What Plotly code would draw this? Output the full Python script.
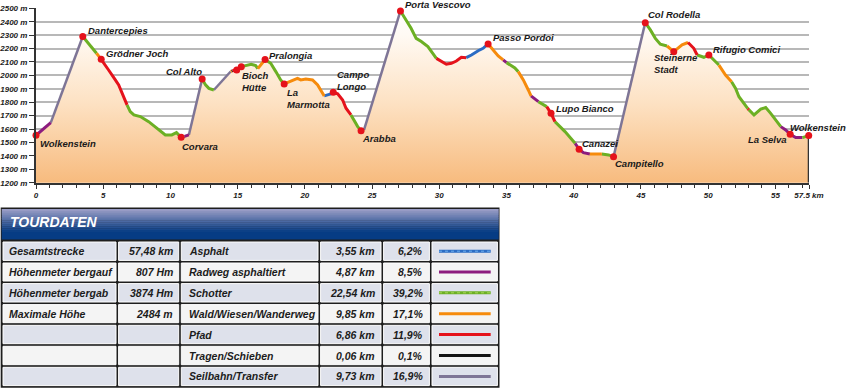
import numpy as np
import plotly.graph_objects as go

# ---------------- profile data (km, m) and surface of the segment that starts at each point
dist = [0.0, 1.1, 3.48, 4.03, 4.5, 4.7, 4.85, 5.4, 5.9, 6.15, 6.77, 7.01, 7.28, 7.76, 8.38, 9.0,
        9.62, 10.1, 10.45, 10.8, 11.05, 11.37, 12.36, 12.61, 12.86, 13.23, 14.48, 14.55, 14.6,
        14.93, 15.27, 15.7, 16.0, 16.34, 16.5, 16.84, 17.04, 17.46, 17.84, 18.2, 18.46, 18.83,
        19.2, 19.45, 19.7, 20.07, 20.57, 20.95, 21.44, 21.94, 22.11, 22.44, 22.81, 23.06, 23.43,
        23.93, 24.18, 24.4, 27.11, 27.54, 27.9, 28.28, 28.66, 29.15, 29.5, 29.78, 30.15, 30.52,
        30.9, 31.27, 31.64, 32.0, 32.39, 32.89, 33.26, 33.63, 34.0, 34.38, 34.75, 35.0, 35.62,
        35.87, 36.25, 36.62, 36.82, 37.37, 37.99, 38.31, 38.6, 39.35, 40.1, 40.4, 40.72, 41.2,
        42.09, 42.59, 42.96, 45.32, 45.7, 46.07, 46.44, 46.94, 47.44, 48.06, 48.5, 48.93, 49.18,
        49.68, 50.05, 50.42, 50.8, 51.29, 51.74, 52.04, 52.29, 52.66, 52.95, 53.02, 53.41, 53.91,
        54.28, 54.65, 55.02, 55.4, 55.77, 56.1, 56.51, 57.01, 57.48]
elev = [1553, 1648, 2290, 2227, 2165, 2140, 2120, 2040, 1966, 1929, 1780, 1730, 1705, 1693, 1655, 1606,
        1556, 1556, 1573, 1538, 1545, 1556, 1973, 1929, 1903, 1891, 2029, 2032, 2035,
        2040, 2065, 2078, 2083, 2073, 2050, 2095, 2118, 2090, 2028, 1966, 1936, 1953,
        1970, 1978, 1966, 1973, 1966, 1929, 1847, 1862, 1874, 1862, 1817, 1755, 1705,
        1618, 1588, 1593, 2480, 2413, 2351, 2276, 2252, 2214, 2165, 2127, 2102, 2083,
        2090, 2107, 2135, 2132, 2152, 2184, 2202, 2234, 2189, 2145, 2115, 2095, 2055,
        2028, 1966, 1891, 1847, 1804, 1767, 1717, 1655, 1581, 1494, 1449, 1424, 1414,
        1414, 1407, 1394, 2393, 2339, 2276, 2232, 2219, 2177, 2227, 2245, 2202, 2152,
        2135, 2152, 2115, 2077, 2003, 1953, 1903, 1841, 1792, 1752, 1745, 1705, 1748,
        1760, 1717, 1668, 1618, 1593, 1561, 1536, 1536, 1551]
surface = ["R", "L", "S", "S", "W", "P", "P", "P", "P", "P", "S", "S", "S", "S", "S", "S",
           "S", "S", "S", "A", "R", "L", "S", "S", "S", "L", "W", "T", "P",
           "P", "S", "S", "S", "S", "W", "W", "S", "S", "S", "S", "W", "W",
           "W", "W", "W", "W", "W", "W", "A", "P", "P", "P", "P", "P", "S",
           "S", "S", "L", "S", "S", "S", "S", "S", "S", "S", "P", "P", "P",
           "P", "P", "P", "A", "A", "A", "A", "W", "W", "W", "R", "S", "S",
           "W", "W", "W", "R", "S", "P", "P", "S", "S", "R", "R", "R", "W",
           "S", "S", "L", "S", "S", "S", "S", "W", "W", "W", "P", "P", "S",
           "S", "S", "S", "W", "W", "S", "S", "S", "S", "P", "S", "S", "S",
           "S", "S", "S", "R", "R", "R", "R", "S"]

# waypoints
wp_km = [0.0, 3.48, 4.85, 10.8, 12.36, 14.93, 15.27, 17.04, 18.46, 22.11, 24.18, 27.11, 33.63,
         38.31, 40.4, 42.96, 45.32, 47.44, 50.05, 56.1, 57.48]
wp_names = ["Wolkenstein", "Dantercepies", "Grödner Joch", "Corvara", "Col Alto", "",
            "Bioch<br>Hütte", "Pralongia", "La<br>Marmotta", "Campo<br>Longo", "Arabba",
            "Porta Vescovo", "Passo Pordoi", "Lupo Bianco", "Canazei", "Campitello",
            "Col Rodella", "Steinerne<br>Stadt", "Rifugio Comici", "La Selva", "Wolkenstein"]
# label placement (xanchor, xshift, yshift)
wp_place = [("left", 2, -8), ("left", 3, 6), ("left", 3, 6), ("left", -1, -9), ("right", 2, 8),
            ("left", 0, 0), ("left", -1, -15), ("left", 2, 4), ("left", 1, -15), ("left", 2, 12),
            ("left", -1, -8), ("left", 3, 6), ("left", 3, 6), ("left", 3, 5), ("left", 1, 6),
            ("left", -1, -7), ("left", 1, 8), ("left", -22, -12), ("left", 2, 5), ("right", -1, -5),
            ("right", 39, 8)]

y_ticks = list(range(1200, 2501, 100))
x_ticks = [0, 5, 10, 15, 20, 25, 30, 35, 40, 45, 50, 55, 57.5]
x_ticktext = ["0", "5", "10", "15", "20", "25", "30", "35", "40", "45", "50", "55", "57.5 km"]

# table data
stat_labels = ["Gesamtstrecke", "Höhenmeter bergauf", "Höhenmeter bergab", "Maximale Höhe"]
stat_values = ["57,48 km", "807 Hm", "3874 Hm", "2484 m"]
surface_codes = ["A", "R", "S", "W", "P", "T", "L"]
surface_names = ["Asphalt", "Radweg asphaltiert", "Schotter", "Wald/Wiesen/Wanderweg", "Pfad",
                 "Tragen/Schieben", "Seilbahn/Transfer"]
surface_km = [3.55, 4.87, 22.54, 9.85, 6.86, 0.06, 9.73]
surface_pct = [6.2, 8.5, 39.2, 17.1, 11.9, 0.1, 16.9]
surface_colors = ["#2b6cc4", "#8c1c7e", "#6cb024", "#f68b0c", "#e5121b", "#141414", "#7e7596"]

W, H = 850, 388
FONT = "Liberation Sans, Arial, sans-serif"


def px(x):
    return x / W


def py(y):
    return 1 - y / H


fig = go.Figure()

# filled area with vertical gradient
fig.add_trace(go.Scatter(
    x=dist, y=elev, mode="lines", line=dict(width=0), fill="tozeroy",
    fillgradient=dict(type="vertical", start=1200, stop=2500,
                      colorscale=[[0, "#f7bb7e"], [0.45, "#fde1c2"], [0.85, "#fffaf4"], [1, "#ffffff"]]),
    hoverinfo="skip"))

# right closing line
fig.add_trace(go.Scatter(x=[dist[-1], dist[-1]], y=[y_ticks[0], elev[-1]], mode="lines",
                         line=dict(color="#333333", width=2), hoverinfo="skip"))

# coloured segments
order = ["L", "A", "R", "S", "W", "P", "T"]
for code in order:
    col = surface_colors[surface_codes.index(code)]
    xs, ys = [], []
    for i, s in enumerate(surface):
        if s != code:
            continue
        if i == 0 or surface[i - 1] != code:
            if xs:
                xs.append(None)
                ys.append(None)
            xs.append(dist[i])
            ys.append(elev[i])
        xs.append(dist[i + 1])
        ys.append(elev[i + 1])
    fig.add_trace(go.Scatter(x=xs, y=ys, mode="lines",
                             line=dict(color=col, width=2.5 if code == "L" else 3),
                             connectgaps=False, hoverinfo="skip"))

wp_elev = list(np.interp(wp_km, dist, elev))
fig.add_trace(go.Scatter(x=wp_km, y=wp_elev, mode="markers", cliponaxis=False,
                         marker=dict(color="#e5121b", size=7, line=dict(width=0)), hoverinfo="skip"))

annotations = []
for name, k, e, (xa, xs_, ys_) in zip(wp_names, wp_km, wp_elev, wp_place):
    if not name:
        continue
    annotations.append(dict(x=k, y=e, xref="x", yref="y", text=name, showarrow=False,
                            xanchor=xa, yanchor="middle", xshift=xs_, yshift=ys_, align="left",
                            font=dict(family=FONT, size=9.5, color="#1a1a1a", style="italic", weight="bold")))

# ---------------- table
shapes = []
tab_left, tab_right, tab_top, tab_bottom = 0.7, 499.5, 207.5, 387.8
row_edges = [240.7, 261.7, 282.3, 303.3, 324.0, 345.0, 366.0, 386.9]
col_edges = [1.7, 117.3, 180.0, 319.3, 382.3, 430.7, 498.7]
shapes.append(dict(type="rect", xref="paper", yref="paper", x0=px(tab_left), x1=px(tab_right),
                   y0=py(tab_bottom), y1=py(tab_top), fillcolor="#1e1e1e", line=dict(width=0), layer="above"))
# header gradient
hdr_top, hdr_grad_end, hdr_bottom = 209.0, 232.0, 239.5
c_top = np.array([0x9e, 0xa0, 0xc8])
c_bot = np.array([0x06, 0x3c, 0x84])
n = 12
for i in range(n):
    y0 = hdr_top + (hdr_grad_end - hdr_top) * i / n
    y1 = hdr_top + (hdr_grad_end - hdr_top) * (i + 1) / n + 0.3
    t = (i + 0.5) / n
    c = (c_top * (1 - t) + c_bot * t).astype(int)
    shapes.append(dict(type="rect", xref="paper", yref="paper", x0=px(col_edges[0]), x1=px(col_edges[-1]),
                       y0=py(y1), y1=py(y0), fillcolor="rgb(%d,%d,%d)" % tuple(c), line=dict(width=0),
                       layer="above"))
shapes.append(dict(type="rect", xref="paper", yref="paper", x0=px(col_edges[0]), x1=px(col_edges[-1]),
                   y0=py(hdr_bottom), y1=py(hdr_grad_end), fillcolor="#063c84", line=dict(width=0),
                   layer="above"))
annotations.append(dict(x=px(8), y=py(222), xref="paper", yref="paper", text="TOURDATEN", showarrow=False,
                        xanchor="left", yanchor="middle",
                        font=dict(family=FONT, size=14, color="white", style="italic", weight="bold")))

row_fill = ["#dee1eb", "#f4f4f4"]
tfont = dict(family=FONT, size=10.5, color="#1c1c1c", style="italic", weight="bold")
for r in range(len(surface_names)):
    ya, yb = row_edges[r], row_edges[r + 1]
    yc = (ya + yb) / 2
    for c in range(len(col_edges) - 1):
        shapes.append(dict(type="rect", xref="paper", yref="paper",
                           x0=px(col_edges[c] + 1.3), x1=px(col_edges[c + 1] - 1.3),
                           y0=py(yb - 1.3), y1=py(ya + 1.3), fillcolor=row_fill[r % 2],
                           line=dict(color="white", width=1), layer="above"))
    cells = []
    if r < len(stat_labels):
        cells.append((stat_labels[r], col_edges[0] + 5.5, "left"))
        cells.append((stat_values[r], col_edges[2] - 5, "right"))
    cells.append((surface_names[r], col_edges[2] + 7, "left"))
    cells.append((("%.2f km" % surface_km[r]).replace(".", ","), col_edges[4] - 5.6, "right"))
    cells.append((("%.1f%%" % surface_pct[r]).replace(".", ","), col_edges[5] - 5.7, "right"))
    for txt, xx, xa in cells:
        annotations.append(dict(x=px(xx), y=py(yc), xref="paper", yref="paper", text=txt, showarrow=False,
                                xanchor=xa, yanchor="middle", font=tfont))
    col = surface_colors[r]
    shapes.append(dict(type="line", xref="paper", yref="paper", x0=px(col_edges[5] + 8.3),
                       x1=px(col_edges[6] - 8), y0=py(yc), y1=py(yc),
                       line=dict(color=col, width=3), layer="above"))
    if surface_codes[r] in ("A", "S"):
        light = "#6fb0f0" if surface_codes[r] == "A" else "#a8d85a"
        shapes.append(dict(type="line", xref="paper", yref="paper", x0=px(col_edges[5] + 8.3),
                           x1=px(col_edges[6] - 8), y0=py(yc), y1=py(yc),
                           line=dict(color=light, width=1, dash="dot"), layer="above"))

fig.update_layout(
    width=W, height=H, margin=dict(l=0, r=0, t=0, b=0, autoexpand=False), autosize=False,
    paper_bgcolor="white", plot_bgcolor="white", showlegend=False,
    shapes=shapes, annotations=annotations,
    xaxis=dict(domain=[36 / W, 809 / W], range=[0, 57.5], tickvals=x_ticks, ticktext=x_ticktext,
               ticks="outside", ticklen=4, tickcolor="#333", showgrid=False, zeroline=False,
               showline=True, linecolor="#333", linewidth=2, automargin=False,
               minor=dict(dtick=1, ticks="outside", ticklen=3, tickcolor="#333", showgrid=False),
               tickfont=dict(family=FONT, size=8, color="#222", style="italic", weight="bold")),
    yaxis=dict(domain=[1 - 182.7 / H, 1 - 8.3 / H], range=[1200, 2500], tickvals=y_ticks,
               ticktext=["%d m" % v for v in y_ticks], ticks="outside", ticklen=5, tickcolor="#333",
               showgrid=True, gridcolor="#b8b8b8", gridwidth=1.5, zeroline=False,
               showline=True, linecolor="#333", linewidth=2, automargin=False,
               tickfont=dict(family=FONT, size=8, color="#222", style="italic", weight="bold")),
)

fig.write_html("out.html",
               config={"displayModeBar": False, "responsive": False},
               post_script="document.body.style.margin='0';document.body.style.padding='0';"
                           "document.body.style.overflow='hidden';"
                           "document.documentElement.style.overflow='hidden';")
